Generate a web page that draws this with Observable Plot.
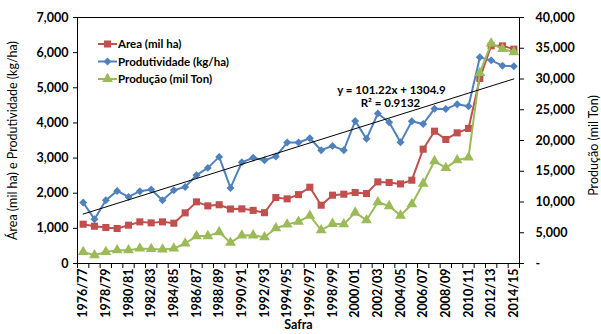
<!DOCTYPE html>
<html><head><meta charset="utf-8">
<script src="https://cdn.jsdelivr.net/npm/d3@7"></script>
<script src="https://cdn.jsdelivr.net/npm/@observablehq/plot@0.6"></script>
<style>
body{margin:0;background:#fff;}
#chart{width:601px;height:334px;}
</style></head><body><div id="chart"></div>
<script>
const seasons = ["1976/77","1977/78","1978/79","1979/80","1980/81","1981/82","1982/83","1983/84","1984/85","1985/86","1986/87","1987/88","1988/89","1989/90","1990/91","1991/92","1992/93","1993/94","1994/95","1995/96","1996/97","1997/98","1998/99","1999/00","2000/01","2001/02","2002/03","2003/04","2004/05","2005/06","2006/07","2007/08","2008/09","2009/10","2010/11","2011/12","2012/13","2013/14","2014/15"];
const area = [1118,1061,1024,996,1090,1185,1156,1185,1147,1441,1754,1640,1672,1550,1555,1512,1446,1878,1839,1960,2170,1659,1944,1972,2020,1992,2322,2305,2265,2370,3253,3765,3529,3717,3842,5265,6195,6193,6099];
const productivity = [1736,1261,1801,2066,1895,2057,2106,1801,2086,2180,2513,2721,3034,2151,2878,3010,2940,3048,3440,3443,3565,3224,3347,3224,4053,3547,4268,4020,3447,4049,3970,4405,4395,4533,4476,5866,5780,5630,5615];
const production = [1890,1350,1890,2160,2160,2440,2370,2280,2440,3250,4460,4460,5110,3380,4560,4590,4270,5740,6360,6800,7770,5415,6450,6390,8280,7041,9970,9340,7800,9642,13000,16660,15545,16797,17236,30992,35772,34900,34360];
const trendSlope = 101.22, trendIntercept = 1304.9;
const trendText = ["y = 101.22x + 1304.9", "R² = 0.9132"];
const leftTicks = [0,1000,2000,3000,4000,5000,6000,7000];
const rightTicks = [0,5000,10000,15000,20000,25000,30000,35000,40000];
const seriesNames = ["Area (mil ha)","Produtividade (kg/ha)","Produção (mil Ton)"];
const colors = ["#C0504D","#4F81BD","#9BBB59"];

const k = 7000/40000;
const n = seasons.length;
const rows = seasons.map((s,i)=>({i:i+1, season:s, area:area[i], prod:productivity[i], out:production[i]*k}));
const trend = [1, n].map(x=>({x, y: trendSlope*x + trendIntercept}));
const font = "Lato, 'Open Sans', sans-serif";

const plot = Plot.plot({
  width:601, height:334, marginLeft:77, marginRight:82, marginTop:17, marginBottom:71,
  style:{fontFamily:font, fontSize:"12px", color:"#000", background:"#fff", overflow:"visible"},
  x:{type:"linear", domain:[0.5, n+0.5]},
  y:{domain:[0,7000]},
  marks:[
    Plot.frame({stroke:"#000", strokeWidth:1}),
    Plot.axisX({ticks:d3.range(0.5, n+1, 1), tickSize:5, tickFormat:()=>"", label:null}),
    Plot.axisX({ticks:d3.range(1, n+1, 2), tickSize:0, tickRotate:-90, tickPadding:5,
      tickFormat:i=>seasons[i-1], label:null, fontWeight:"bold", fontSize:12.5}),
    Plot.axisY({ticks:leftTicks, tickSize:4, tickPadding:5, tickFormat:d3.format(","), label:null, fontWeight:"bold", fontSize:12.5}),
    Plot.axisY({anchor:"right", ticks:rightTicks.map(v=>v*k), tickSize:4, tickPadding:12,
      tickFormat:v=>{const p=Math.round(v/k); return p===0?"-":d3.format(",")(p);}, label:null, fontWeight:"bold", fontSize:12.5}),
    Plot.text(["Safra"], {frameAnchor:"bottom", dy:65, fontWeight:"bold", fontSize:12.5}),
    Plot.text(["Área (mil ha) e Produtividade (kg/ha)"], {frameAnchor:"left", textAnchor:"middle", dx:-65, rotate:-90, fontSize:12.5}),
    Plot.text(["Produção (mil Ton)"], {frameAnchor:"right", textAnchor:"middle", dx:74, dy:5, rotate:-90, fontSize:12.5}),
    Plot.line(rows, {x:"i", y:"area", stroke:colors[0], strokeWidth:2}),
    Plot.dot(rows, {x:"i", y:"area", symbol:"square", r:4, fill:colors[0]}),
    Plot.line(rows, {x:"i", y:"prod", stroke:colors[1], strokeWidth:2}),
    Plot.dot(rows, {x:"i", y:"prod", symbol:"diamond2", r:3.6, fill:colors[1]}),
    Plot.line(rows, {x:"i", y:"out", stroke:colors[2], strokeWidth:2}),
    Plot.dot(rows, {x:"i", y:"out", symbol:"triangle", r:4, fill:colors[2]}),
    Plot.line(trend, {x:"x", y:"y", stroke:"#000", strokeWidth:1}),
    Plot.text([trendText[0]], {frameAnchor:"top", dx:93, dy:68, fontWeight:"bold", fontSize:11.5}),
    Plot.text([trendText[1]], {frameAnchor:"top", dx:92, dy:81, fontWeight:"bold", fontSize:11.5})
  ]
});
const svg = d3.select(plot);
const symbols = [d3.symbolSquare, d3.symbolDiamond2, d3.symbolTriangle];
const lg = svg.append("g").attr("font-family", font).attr("font-size", 11.5).attr("font-weight","bold").attr("text-anchor","start");
seriesNames.forEach((name, j)=>{
  const y = 44 + j*17.5;
  lg.append("line").attr("x1",98).attr("x2",117).attr("y1",y).attr("y2",y).attr("stroke",colors[j]).attr("stroke-width",2);
  lg.append("path").attr("d", d3.symbol(symbols[j], j===1?40:50)()).attr("transform",`translate(107.5,${y})`).attr("fill",colors[j]);
  lg.append("text").attr("x",118).attr("y",y).attr("dy","0.35em").attr("text-anchor","start").text(name);
});
document.getElementById("chart").appendChild(plot);
</script></body></html>
